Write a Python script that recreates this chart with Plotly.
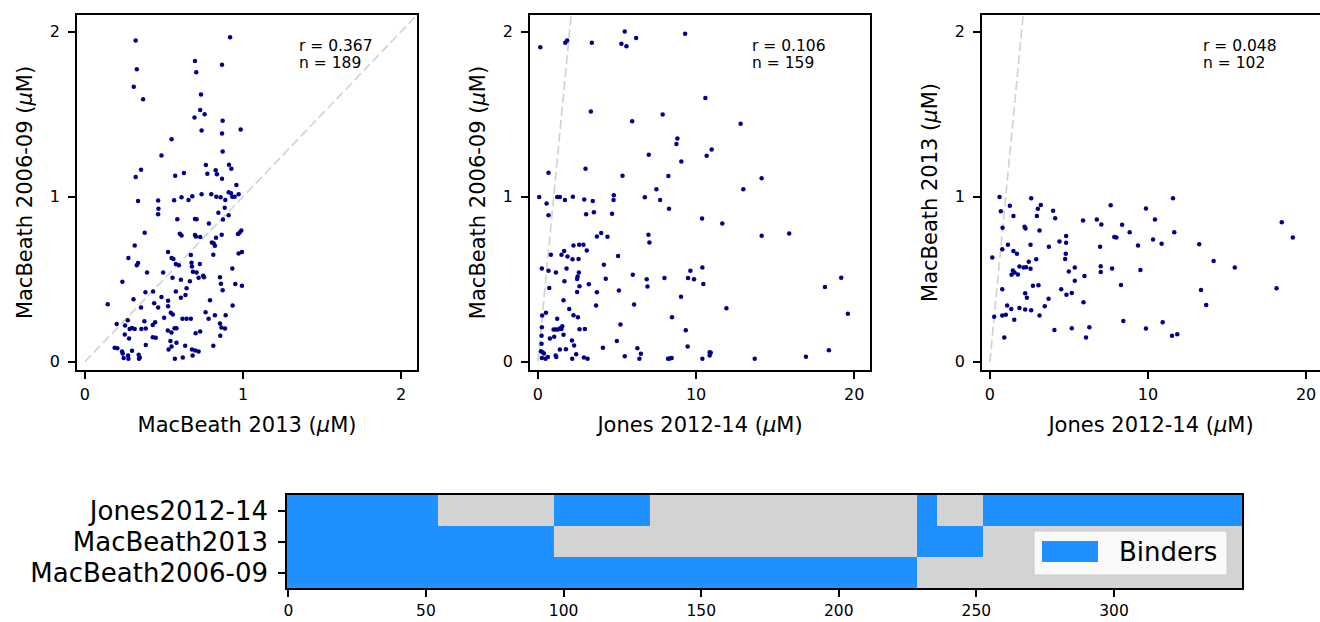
import numpy as np
import plotly.graph_objects as go

# ---------------- data ----------------
# Panel 1: MacBeath 2013 (x) vs MacBeath 2006-09 (y)
mb2013_p1 = [0.321, 0.918, 0.696, 0.867, 0.328, 0.704, 0.309, 0.368, 0.734, 0.729, 0.693, 0.757, 0.871, 0.985,
             0.738, 0.867, 0.548, 0.871, 0.484, 0.765, 0.911, 0.926, 0.355, 0.321, 0.571, 0.626, 0.774, 0.827,
             0.835, 0.867, 0.958, 0.909, 0.924, 0.972, 0.932, 0.947, 0.831, 0.858, 0.799, 0.738, 0.679, 0.611,
             0.655, 0.564, 0.888, 0.336, 0.463, 0.465, 0.463, 0.884, 0.844, 0.909, 0.873, 0.584, 0.696, 0.706,
             0.784, 0.378, 0.600, 0.611, 0.696, 0.702, 0.729, 0.865, 0.829, 0.968, 0.989, 0.979, 0.803, 0.814,
             0.822, 0.315, 0.526, 0.972, 0.993, 0.670, 0.812, 0.275, 0.548, 0.560, 0.336, 0.328, 0.575, 0.594,
             0.674, 0.677, 0.727, 0.932, 0.393, 0.495, 0.683, 0.706, 0.748, 0.753, 0.719, 0.554, 0.607, 0.854,
             0.237, 0.664, 0.860, 0.951, 0.993, 0.643, 0.871, 0.575, 0.383, 0.431, 0.636, 0.484, 0.607, 0.307,
             0.791, 0.526, 0.438, 0.144, 0.934, 0.355, 0.463, 0.526, 0.763, 0.543, 0.556, 0.822, 0.890, 0.501,
             0.617, 0.643, 0.670, 0.782, 0.271, 0.376, 0.201, 0.444, 0.429, 0.854, 0.254, 0.283, 0.298, 0.315,
             0.357, 0.385, 0.567, 0.579, 0.863, 0.886, 0.524, 0.729, 0.700, 0.547, 0.252, 0.279, 0.429, 0.448,
             0.856, 0.541, 0.579, 0.385, 0.634, 0.812, 0.188, 0.205, 0.548, 0.529, 0.677, 0.698, 0.719, 0.235,
             0.298, 0.239, 0.340, 0.273, 0.681, 0.619, 0.245, 0.275, 0.342, 0.569, 0.347]
mb0609_p1 = [1.946, 1.966, 1.821, 1.799, 1.771, 1.753, 1.666, 1.590, 1.618, 1.525, 1.479, 1.499, 1.459, 1.406,
             1.400, 1.382, 1.348, 1.274, 1.249, 1.191, 1.193, 1.169, 1.163, 1.119, 1.127, 1.143, 1.139, 1.159,
             1.135, 1.109, 1.070, 1.026, 1.020, 1.014, 1.000, 1.000, 1.000, 0.996, 1.014, 1.014, 1.002, 0.996,
             0.980, 0.978, 0.980, 0.974, 0.976, 0.926, 0.893, 0.932, 0.903, 0.887, 0.861, 0.863, 0.865, 0.863,
             0.837, 0.781, 0.775, 0.765, 0.767, 0.759, 0.755, 0.769, 0.751, 0.773, 0.795, 0.783, 0.722, 0.718,
             0.702, 0.704, 0.664, 0.656, 0.664, 0.646, 0.648, 0.628, 0.628, 0.622, 0.598, 0.584, 0.592, 0.584,
             0.600, 0.577, 0.592, 0.565, 0.541, 0.541, 0.545, 0.541, 0.521, 0.511, 0.509, 0.509, 0.497, 0.511,
             0.485, 0.487, 0.473, 0.471, 0.461, 0.445, 0.433, 0.425, 0.421, 0.425, 0.404, 0.392, 0.388, 0.378,
             0.372, 0.370, 0.354, 0.348, 0.340, 0.328, 0.328, 0.336, 0.300, 0.296, 0.286, 0.282, 0.282, 0.266,
             0.260, 0.260, 0.260, 0.260, 0.252, 0.245, 0.229, 0.239, 0.223, 0.231, 0.219, 0.199, 0.205, 0.199,
             0.199, 0.201, 0.203, 0.203, 0.207, 0.201, 0.189, 0.183, 0.173, 0.177, 0.165, 0.141, 0.149, 0.145,
             0.157, 0.125, 0.115, 0.101, 0.097, 0.097, 0.085, 0.082, 0.093, 0.074, 0.074, 0.068, 0.062, 0.062,
             0.066, 0.050, 0.042, 0.038, 0.038, 0.026, 0.022, 0.018, 0.018, 0.018, 0.026]

# Panel 2: Jones 2012-14 (x) vs MacBeath 2006-09 (y)
jones_p2 = [5.49, 9.31, 6.21, 0.15, 1.73, 1.85, 3.41, 5.28, 5.60, 10.59, 3.35, 7.89, 5.96, 12.82, 8.82, 8.76,
            10.99, 7.01, 10.67, 9.07, 3.01, 0.67, 5.35, 8.25, 14.15, 7.49, 12.99, 4.80, 0.08, 1.22, 1.39, 2.21,
            6.76, 4.78, 1.71, 2.93, 3.47, 7.73, 0.55, 8.29, 3.54, 4.69, 3.05, 0.67, 10.38, 11.66, 15.89, 4.00,
            3.73, 4.40, 6.99, 7.05, 14.15, 2.25, 2.61, 2.88, 3.09, 1.66, 0.82, 1.49, 1.87, 5.07, 2.19, 2.57,
            4.17, 0.25, 1.81, 10.40, 9.64, 0.67, 1.14, 2.59, 6.00, 2.51, 2.48, 4.29, 6.88, 8.00, 9.49, 9.87,
            19.18, 1.68, 2.63, 3.22, 0.72, 6.93, 10.46, 18.15, 2.48, 3.73, 5.12, 9.05, 1.62, 3.68, 6.08, 1.98,
            11.92, 0.51, 0.27, 2.25, 2.53, 8.48, 19.60, 1.22, 5.22, 1.54, 1.41, 1.26, 0.99, 1.12, 1.49, 2.63,
            2.97, 9.35, 0.25, 1.62, 0.23, 0.76, 1.03, 2.15, 4.99, 2.29, 0.23, 4.11, 6.29, 9.47, 1.77, 1.39,
            0.19, 0.29, 0.38, 6.51, 10.86, 10.93, 10.86, 18.40, 2.42, 1.12, 1.16, 0.63, 0.48, 0.25, 5.49, 2.91,
            3.14, 2.17, 6.42, 8.23, 8.34, 8.46, 10.40, 13.71, 16.95]
mb0609_p2 = [2.000, 1.986, 1.960, 1.905, 1.932, 1.946, 1.932, 1.926, 1.911, 1.598, 1.515, 1.497, 1.457, 1.441,
             1.352, 1.318, 1.286, 1.254, 1.247, 1.213, 1.169, 1.145, 1.127, 1.125, 1.111, 1.044, 1.044, 1.008,
             0.998, 0.998, 0.998, 1.000, 0.996, 0.980, 0.980, 0.982, 0.974, 0.980, 0.958, 0.926, 0.905, 0.897,
             0.893, 0.887, 0.867, 0.837, 0.777, 0.779, 0.759, 0.757, 0.769, 0.722, 0.763, 0.704, 0.708, 0.708,
             0.674, 0.670, 0.648, 0.648, 0.638, 0.640, 0.620, 0.622, 0.588, 0.565, 0.565, 0.571, 0.551, 0.551,
             0.541, 0.541, 0.527, 0.517, 0.501, 0.503, 0.499, 0.507, 0.507, 0.499, 0.509, 0.487, 0.457, 0.469,
             0.447, 0.455, 0.471, 0.453, 0.423, 0.421, 0.431, 0.394, 0.372, 0.340, 0.346, 0.320, 0.324, 0.296,
             0.280, 0.282, 0.270, 0.270, 0.290, 0.260, 0.225, 0.215, 0.203, 0.195, 0.195, 0.195, 0.199, 0.197,
             0.199, 0.191, 0.209, 0.163, 0.157, 0.141, 0.151, 0.129, 0.125, 0.099, 0.109, 0.085, 0.082, 0.093,
             0.076, 0.074, 0.064, 0.058, 0.050, 0.048, 0.058, 0.054, 0.038, 0.070, 0.046, 0.038, 0.028, 0.028,
             0.018, 0.022, 0.034, 0.026, 0.018, 0.018, 0.018, 0.018, 0.020, 0.022, 0.018, 0.018, 0.030]

# Panel 3: Jones 2012-14 (x) vs MacBeath 2013 (y)
jones_p3 = [0.61, 2.61, 11.58, 1.26, 3.22, 7.64, 0.69, 3.03, 4.00, 9.87, 1.49, 2.97, 4.13, 5.89, 6.76, 7.05,
            8.36, 10.44, 18.46, 0.80, 2.19, 2.25, 3.14, 11.66, 8.84, 4.82, 7.87, 8.00, 19.16, 4.40, 4.82, 10.32,
            1.14, 2.57, 9.37, 10.86, 13.24, 3.73, 6.97, 0.78, 1.49, 1.71, 4.80, 0.15, 2.93, 4.76, 2.46, 14.15,
            1.87, 2.13, 2.29, 2.57, 5.37, 7.01, 7.73, 9.52, 15.49, 1.45, 1.37, 1.56, 1.77, 4.99, 7.01, 5.98,
            5.37, 2.72, 3.07, 8.29, 0.78, 4.51, 13.35, 18.13, 2.23, 5.18, 4.84, 2.34, 3.71, 5.92, 1.09, 3.47,
            13.68, 1.87, 1.35, 2.23, 2.61, 0.27, 0.78, 1.01, 3.14, 1.54, 8.44, 10.93, 6.29, 5.18, 4.08, 9.87,
            0.91, 6.08, 11.52, 11.85]
mb2013_p3 = [0.998, 0.990, 0.990, 0.944, 0.950, 0.948, 0.911, 0.926, 0.915, 0.928, 0.883, 0.883, 0.869, 0.855,
             0.861, 0.831, 0.829, 0.861, 0.845, 0.811, 0.817, 0.807, 0.795, 0.785, 0.785, 0.761, 0.755, 0.753,
             0.753, 0.728, 0.720, 0.740, 0.708, 0.708, 0.704, 0.714, 0.712, 0.696, 0.696, 0.682, 0.670, 0.654,
             0.654, 0.632, 0.620, 0.622, 0.606, 0.610, 0.577, 0.571, 0.573, 0.563, 0.571, 0.579, 0.565, 0.555,
             0.571, 0.553, 0.527, 0.541, 0.529, 0.547, 0.543, 0.519, 0.491, 0.461, 0.463, 0.465, 0.439, 0.439,
             0.435, 0.445, 0.415, 0.417, 0.406, 0.388, 0.382, 0.360, 0.340, 0.336, 0.344, 0.326, 0.320, 0.316,
             0.312, 0.272, 0.280, 0.284, 0.280, 0.254, 0.247, 0.239, 0.209, 0.203, 0.193, 0.201, 0.147, 0.147,
             0.157, 0.167]

stats_labels = [("r = 0.367", "n = 189"), ("r = 0.106", "n = 159"), ("r = 0.048", "n = 102")]

# Binder heatmap (runs of binder columns, [start, end))
n_proteins = 347
heat_rows = ["MacBeath2006-09", "MacBeath2013", "Jones2012-14"]
binder_runs = {
    "MacBeath2006-09": [(0, 229)],
    "MacBeath2013": [(0, 97), (229, 253)],
    "Jones2012-14": [(0, 55), (97, 132), (229, 236), (253, 347)],
}
heat_ticks = [0, 50, 100, 150, 200, 250, 300]

# ---------------- figure ----------------
W, H = 1320, 622
FONT = "DejaVu Sans"
NAVY = "#00008B"
BLUE = "#1E90FF"
GREY = "#D3D3D3"


def fx(p):
    return p / W


def fy(p):
    return 1 - p / H


z = np.zeros((len(heat_rows), n_proteins))
for i, row in enumerate(heat_rows):
    for a, b in binder_runs[row]:
        z[i, a:b] = 1
row_pos = list(range(len(heat_rows)))

fig = go.Figure()

panels = [
    (mb2013_p1, mb0609_p1, "x", "y"),
    (jones_p2, mb0609_p2, "x2", "y2"),
    (jones_p3, mb2013_p3, "x3", "y3"),
]
for xs, ys, xa, ya in panels:
    fig.add_trace(go.Scatter(x=[0, 2.1], y=[0, 2.1], mode="lines", xaxis=xa, yaxis=ya,
                             line=dict(color=GREY, width=1.7, dash="9px,4px"), showlegend=False,
                             hoverinfo="skip"))
    fig.add_trace(go.Scatter(x=xs, y=ys, mode="markers", xaxis=xa, yaxis=ya,
                             marker=dict(color=NAVY, size=4.5, line=dict(width=0)), showlegend=False))

fig.add_trace(go.Heatmap(z=z, x=np.arange(n_proteins), y=row_pos, xaxis="x4", yaxis="y4",
                         colorscale=[[0, GREY], [0.5, GREY], [0.5, BLUE], [1, BLUE]],
                         zmin=0, zmax=1, showscale=False, hoverinfo="skip"))

axis_common = dict(showline=True, linecolor="black", linewidth=1.5, mirror=True, ticks="outside",
                   ticklen=7, tickwidth=1.5, tickcolor="black", showgrid=False, zeroline=False,
                   tickfont=dict(family=FONT, size=16, color="black"), automargin=False)

ydom = [fy(370), fy(15)]
mu = "(<i>μ</i>M)"
title_font = dict(family=FONT, size=21, color="black")
xt = dict(axis_common, ticklabelstandoff=2)
yt = dict(axis_common, ticklabelstandoff=5)

fig.update_layout(
    width=W, height=H, margin=dict(l=0, r=0, t=0, b=0),
    paper_bgcolor="white", plot_bgcolor="white", showlegend=False,
    xaxis=dict(xt, domain=[fx(77), fx(417)], range=[-0.05, 2.1], tickvals=[0, 1, 2], anchor="y",
               title=dict(text="MacBeath 2013 " + mu, font=title_font, standoff=14)),
    yaxis=dict(yt, domain=ydom, range=[-0.05, 2.1], tickvals=[0, 1, 2], anchor="x",
               title=dict(text="MacBeath 2006-09 " + mu, font=title_font, standoff=12)),
    xaxis2=dict(xt, domain=[fx(530), fx(870)], range=[-0.5, 21], tickvals=[0, 10, 20], anchor="y2",
                title=dict(text="Jones 2012-14 " + mu, font=title_font, standoff=14)),
    yaxis2=dict(yt, domain=ydom, range=[-0.05, 2.1], tickvals=[0, 1, 2], anchor="x2",
                title=dict(text="MacBeath 2006-09 " + mu, font=title_font, standoff=12)),
    xaxis3=dict(xt, domain=[fx(982), 1.0], range=[-0.5, -0.5 + 338 / 15.81], tickvals=[0, 10, 20],
                anchor="y3", title=dict(text="Jones 2012-14 " + mu, font=title_font, standoff=14)),
    yaxis3=dict(yt, domain=ydom, range=[-0.05, 2.1], tickvals=[0, 1, 2], anchor="x3",
                title=dict(text="MacBeath 2013 " + mu, font=title_font, standoff=12)),
    xaxis4=dict(axis_common, domain=[fx(287), fx(1242)], range=[-0.5, n_proteins - 0.5], tickvals=heat_ticks,
                anchor="y4", ticklabelstandoff=1, tickfont=dict(family=FONT, size=15.5, color="black")),
    yaxis4=dict(axis_common, domain=[fy(588), fy(495)], range=[-0.5, 2.5], anchor="x4",
                tickmode="array", tickvals=row_pos, ticktext=heat_rows,
                ticklabelstandoff=5, tickfont=dict(family=FONT, size=26, color="black")),
)

# r / n annotations
for k, (rl, nl) in enumerate(stats_labels):
    suffix = "" if k == 0 else str(k + 1)
    for txt, ypix in ((rl, 46), (nl, 63)):
        fig.add_annotation(text=txt, xref=f"x{suffix} domain", yref=f"y{suffix} domain",
                           x=0.648, y=1 - (ypix - 15) / 355, xanchor="left", yanchor="middle",
                           showarrow=False, font=dict(family=FONT, size=15.5, color="black"))

# legend box (drawn manually)
fig.add_shape(type="rect", xref="paper", yref="paper", x0=fx(1034), x1=fx(1227), y0=fy(575), y1=fy(531),
              fillcolor="rgba(255,255,255,0.85)", line=dict(color="#CCCCCC", width=1))
fig.add_shape(type="rect", xref="paper", yref="paper", x0=fx(1042), x1=fx(1098), y0=fy(562), y1=fy(541),
              fillcolor=BLUE, line=dict(width=0))
fig.add_annotation(text="Binders", xref="paper", yref="paper", x=fx(1117), y=fy(552), xanchor="left",
                   yanchor="middle", showarrow=False, font=dict(family=FONT, size=26, color="black"))

fig.write_html("out.html")
